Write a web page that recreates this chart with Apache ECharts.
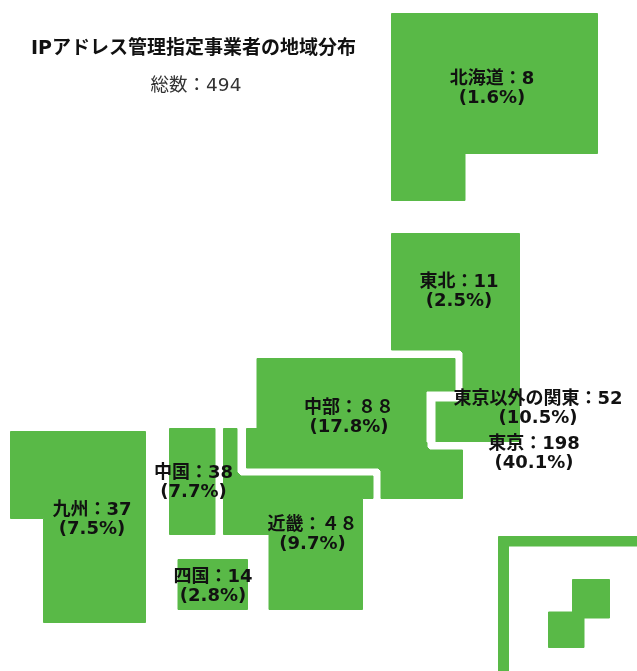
<!DOCTYPE html>
<html lang="ja">
<head>
<meta charset="utf-8">
<title>IPアドレス管理指定事業者の地域分布</title>
<script src="https://cdn.jsdelivr.net/npm/echarts@6/dist/echarts.min.js"></script>
<style>
html,body{margin:0;padding:0;background:#fff}
#main{width:637px;height:671px}
</style>
</head>
<body>
<div id="main"></div>
<script>
// Regional breakdown of designated IP address management operators
const titleText = 'IPアドレス管理指定事業者の地域分布';
const totalText = '総数：494';
const regionNames = ['北海道', '東北', '中部', '東京以外の関東', '東京', '近畿', '中国', '四国', '九州'];
const regionCounts = [8, 11, 88, 52, 198, 48, 38, 14, 37];
const countLabels = ['8', '11', '８８', '52', '198', '４８', '38', '14', '37'];
const regionShares = ['1.6', '2.5', '17.8', '10.5', '40.1', '9.7', '7.7', '2.8', '7.5'];

// Schematic block map of Japan: outlines in map units, with a label anchor for each region
const regionOutlines = {
  '北海道': { cp: [492, 89], rings: [[[391.5, 13.5], [597.5, 13.5], [597.5, 153.5], [465, 153.5], [465, 200.5], [391.5, 200.5]]] },
  '東北': { cp: [459, 292], rings: [[[391.5, 233.5], [519.5, 233.5], [519.5, 401], [463, 401], [463, 353], [460, 350], [391.5, 350]]] },
  '中部': { cp: [349, 418], rings: [[[257, 358.5], [455, 358.5], [455, 392], [430, 392], [427, 395], [427, 447], [430, 450], [462.5, 450], [462.5, 498.5], [381, 498.5], [381, 471], [378, 468], [246.5, 468], [246.5, 428.5], [257, 428.5]]] },
  '東京以外の関東': { cp: [538, 409], rings: [[[435, 401], [519.5, 401], [519.5, 441.5], [435, 441.5]]] },
  '東京': { cp: [534, 453.5], rings: [[[427, 392], [455, 392], [463, 401], [435, 401], [435, 442], [427, 442]]] },
  '近畿': { cp: [312.5, 535], rings: [[[223.5, 428.5], [237, 428.5], [237, 472], [241, 476], [373, 476], [373, 498.5], [362.5, 498.5], [362.5, 609.5], [269, 609.5], [269, 534.5], [223.5, 534.5]]] },
  '中国': { cp: [193.5, 482.5], rings: [[[169.5, 428.5], [215, 428.5], [215, 534.5], [169.5, 534.5]]] },
  '四国': { cp: [213, 586.5], rings: [[[178, 559.5], [247.5, 559.5], [247.5, 609.5], [178, 609.5]]] },
  '九州': { cp: [92, 520], rings: [
    [[10.5, 431.5], [145.5, 431.5], [145.5, 622.5], [43.5, 622.5], [43.5, 518.5], [10.5, 518.5]],
    // inset frame and the Okinawa blocks inside it
    [[498.5, 536.5], [637, 536.5], [637, 546], [508.5, 546], [508.5, 671], [498.5, 671]],
    [[572.5, 579.5], [609.5, 579.5], [609.5, 618], [584, 618], [584, 647.5], [548.5, 647.5], [548.5, 612], [572.5, 612]]
  ] }
};

const GREEN = '#59b947';

const geoJson = {
  type: 'FeatureCollection',
  features: regionNames.map(function (name) {
    const shape = regionOutlines[name];
    return {
      type: 'Feature',
      properties: { name: name, cp: shape.cp },
      geometry: { type: 'MultiPolygon', coordinates: shape.rings.map(function (r) { return [r]; }) }
    };
  })
};
echarts.registerMap('japanBlocks', geoJson);

const chart = echarts.init(document.getElementById('main'), null, { renderer: 'canvas' });
const FONT = '"DejaVu Sans", "Noto Sans CJK JP", sans-serif';

chart.setOption({
  animation: false,
  backgroundColor: '#fff',
  title: [
    {
      text: titleText, left: 188.5, top: 35, textAlign: 'center',
      textStyle: { fontFamily: FONT, fontSize: 19, fontWeight: 'bold', color: '#111' }
    },
    {
      text: totalText, left: 191, top: 72, textAlign: 'center',
      textStyle: { fontFamily: FONT, fontSize: 18.5, fontWeight: 'normal', color: '#333' }
    }
  ],
  series: [{
    type: 'map',
    map: 'japanBlocks',
    projection: {
      project: function (p) { return p; },
      unproject: function (p) { return p; }
    },
    boundingCoords: [[0, 0], [637, 671]],
    left: 0, top: 0, width: 637, height: 671,
    roam: false,
    selectedMode: false,
    itemStyle: { areaColor: GREEN, borderColor: GREEN, borderWidth: 1, borderJoin: 'round' },
    emphasis: { disabled: true },
    label: {
      show: true,
      fontFamily: FONT,
      fontSize: 18,
      fontWeight: 'bold',
      lineHeight: 19,
      color: '#111',
      align: 'center',
      formatter: function (p) {
        const i = regionNames.indexOf(p.name);
        return p.name + '：' + countLabels[i] + '\n(' + regionShares[i] + '%)';
      }
    },
    data: regionNames.map(function (name, i) {
      const item = { name: name, value: regionCounts[i] };
      // Tokyo's own block stays white, so it reads as the gap around the rest of Kanto
      if (name === '東京') {
        item.itemStyle = { areaColor: '#fff', borderColor: '#fff' };
      }
      return item;
    })
  }]
});
</script>
</body>
</html>
